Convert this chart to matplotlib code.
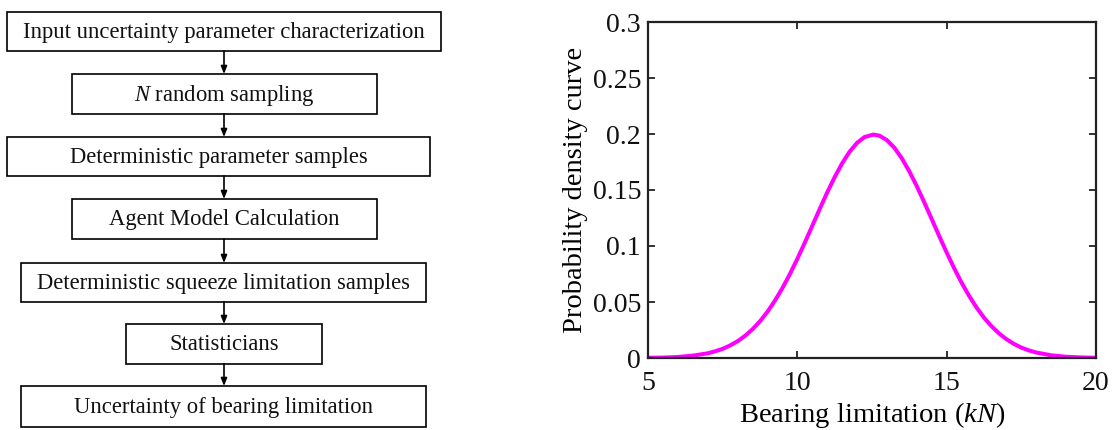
import matplotlib.pyplot as plt
from matplotlib.patches import Rectangle

plt.rcParams.update({
    "font.family": "Liberation Serif",
    "mathtext.fontset": "custom",
    "mathtext.rm": "Liberation Serif",
    "mathtext.it": "Liberation Serif:italic",
})

# ---- flowchart data ----
steps = [
    "Input uncertainty parameter characterization",
    "$N$ random sampling",
    "Deterministic parameter samples",
    "Agent Model Calculation",
    "Deterministic squeeze limitation samples",
    "Statisticians",
    "Uncertainty of bearing limitation",
]

# ---- density curve data ----
bearing_kn = [5, 5.5, 6, 6.5, 7, 7.25, 7.5, 7.75, 8, 8.25, 8.5, 8.75, 9, 9.25,
              9.5, 9.75, 10, 10.25, 10.5, 10.75, 11, 11.25, 11.5, 11.75, 12,
              12.25, 12.55, 12.75, 13, 13.25, 13.5, 13.75, 14, 14.25, 14.5,
              14.75, 15, 15.25, 15.5, 15.75, 16, 16.25, 16.5, 16.75, 17, 17.25,
              17.5, 17.75, 18, 18.5, 19, 19.5, 20]
density = [0.0002, 0.0004, 0.0009, 0.0021, 0.0042, 0.0060, 0.0082, 0.0112,
           0.0150, 0.0198, 0.0257, 0.0328, 0.0413, 0.0512, 0.0624, 0.0749,
           0.0885, 0.1030, 0.1180, 0.1331, 0.1478, 0.1615, 0.1738, 0.1842,
           0.1921, 0.1973, 0.1995, 0.1985, 0.1945, 0.1877, 0.1782, 0.1666,
           0.1534, 0.1390, 0.1240, 0.1089, 0.0942, 0.0802, 0.0672, 0.0555,
           0.0451, 0.0360, 0.0284, 0.0220, 0.0168, 0.0126, 0.0093, 0.0068,
           0.0049, 0.0024, 0.0011, 0.0005, 0.0002]

W, H = 1113, 430
fig = plt.figure(figsize=(W / 100, H / 100), dpi=100)

# flowchart drawn in pixel coordinates
fc = fig.add_axes([0, 0, 1, 1])
fc.set_xlim(0, W)
fc.set_ylim(H, 0)
fc.axis("off")

# box layout: (left, right, top, bottom) in pixels
box_px = [
    (7, 441, 12, 51),
    (72, 377, 74, 114),
    (7, 430, 137, 176),
    (72, 377, 199, 239),
    (21, 426, 263, 302),
    (126, 322, 324, 364),
    (21, 426, 386, 427),
]
x_arrow = 224

for (l, r, t, b), label in zip(box_px, steps):
    fc.add_patch(Rectangle((l, t), r - l, b - t, fill=False,
                           edgecolor="black", lw=1.2))
    fc.text((l + r) / 2, (t + b) / 2 + 1, label, ha="center", va="center",
            fontsize=16.3, color="#111111")

for (l0, r0, t0, b0), (l1, r1, t1, b1) in zip(box_px[:-1], box_px[1:]):
    fc.annotate("", xy=(x_arrow, t1), xytext=(x_arrow, b0),
                arrowprops=dict(arrowstyle="-|>,head_length=0.45,head_width=0.18",
                                color="black", lw=1.2, shrinkA=0, shrinkB=0))

# density plot
ax = fig.add_axes([648 / W, 1 - 358 / H, (1096 - 648) / W, (358 - 22) / H])
ax.plot(bearing_kn, density, color="#ff00ff", lw=2.9)
ax.set_xlim(5, 20)
ax.set_ylim(0, 0.3)
ax.set_xticks([5, 10, 15, 20])
ax.set_yticks([0, 0.05, 0.1, 0.15, 0.2, 0.25, 0.3])
ax.set_yticklabels(["0", "0.05", "0.1", "0.15", "0.2", "0.25", "0.3"])
ax.tick_params(direction="in", length=5, width=1.3, labelsize=20,
               top=True, right=True, colors="#222222", labelcolor="#111111")
ax.tick_params(axis="x", pad=9)
ax.tick_params(axis="y", pad=5)
for s in ax.spines.values():
    s.set_linewidth(1.6)
    s.set_color("#222222")
ax.set_xlabel("Bearing limitation ($kN$)", fontsize=20.5, labelpad=3)
ax.set_ylabel("Probability density curve", fontsize=20.5, labelpad=3)

fig.savefig("out.png", dpi=100)
